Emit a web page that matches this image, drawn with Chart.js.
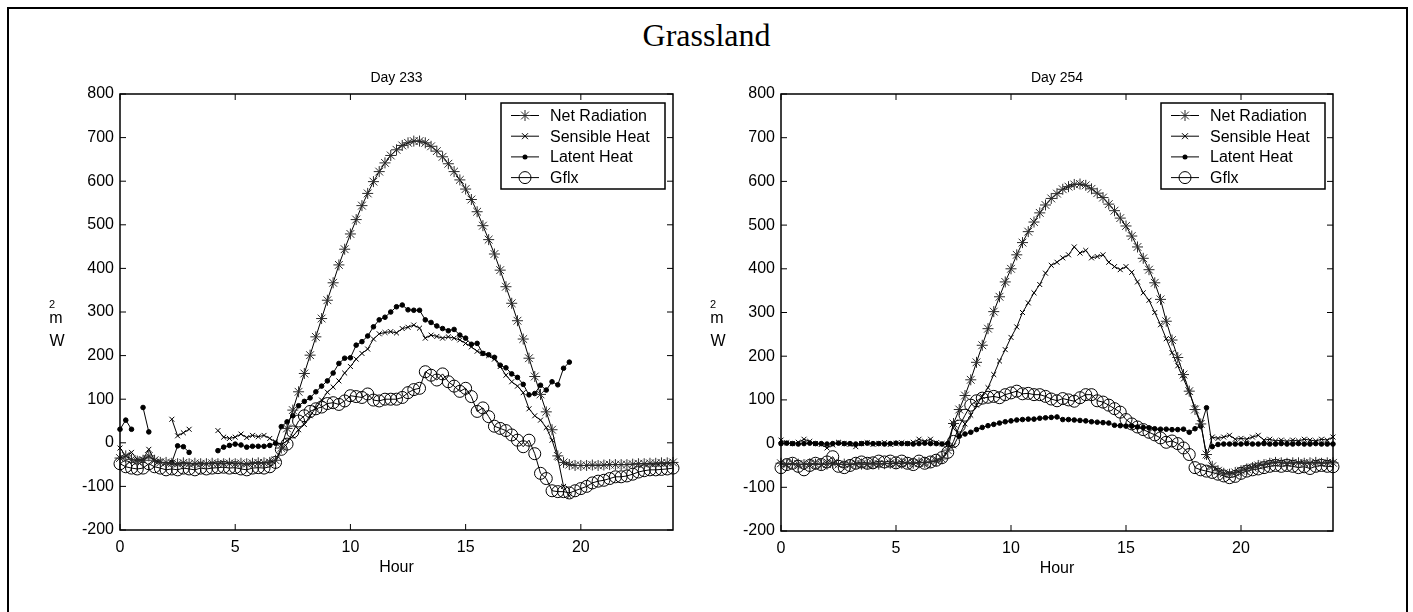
<!DOCTYPE html>
<html lang="en">
<head>
<meta charset="UTF-8" />
<title>Grassland</title>
<script src="https://cdn.jsdelivr.net/npm/chart.js"></script>
<style>
  html, body { margin: 0; padding: 0; background: #fff; }
  body { width: 1413px; height: 612px; position: relative; overflow: hidden; }
  #frame { position: absolute; left: 7px; top: 7px; width: 1401px; height: 640px; border: 2px solid #000; box-sizing: border-box; }
  #title { position: absolute; left: 0; top: 19px; width: 1413px; text-align: center;
           font-family: "Times New Roman", "Liberation Serif", serif; font-size: 32px; line-height: 32px; }
  .panel { position: absolute; top: 0; height: 612px; }
</style>
</head>
<body>
  <div id="frame"></div>
  <div id="title">Grassland</div>
  <div class="panel" style="left:0;width:706px"><canvas id="day233" width="706" height="612"></canvas></div>
  <div class="panel" style="left:706px;width:707px"><canvas id="day254" width="707" height="612"></canvas></div>

<script>
  // 15-minute samples, hour 0 .. 24
  const HOURS = Array.from({ length: 97 }, (_, i) => i * 0.25);
  const SERIES_NAMES = ['Net Radiation', 'Sensible Heat', 'Latent Heat', 'Gflx'];
  const X_TICKS = [0, 5, 10, 15, 20];
  const Y_TICKS = [-200, -100, 0, 100, 200, 300, 400, 500, 600, 700, 800];

  // Day 233
  const nr233 = [
    -35, -30, -38, -42, -40, -30, -40, -45,
    -45, -47, -48, -46, -48, -47, -48, -48,
    -47, -48, -48, -47, -48, -47, -48, -47,
    -46, -46, -45, -40, -12, 33, 75, 117,
    159, 201, 243, 285, 327, 367, 408, 444,
    479, 512, 544, 572, 599, 622, 642, 659,
    672, 682, 688, 692, 692, 688, 680, 669,
    656, 640, 622, 603, 582, 558, 530, 498,
    466, 433, 396, 358, 320, 280, 238, 194,
    152, 111, 71, 30, -30, -45, -50, -52,
    -52, -52, -51, -52, -51, -50, -50, -50,
    -50, -49, -48, -48, -47, -47, -46, -46,
    -45
  ];
  const sh233 = [
    -12, -30, -22, -38, -38, -15, -40, -42,
    null, 54, 16, 23, 31, null, null, null,
    null, 28, 13, 10, 13, 20, 12, 17,
    14, 17, 10, 2, -5, 5, 15, 30,
    42, 62, 80, 98, 116, 128, 142, 160,
    175, 192, 205, 215, 238, 250, 253, 255,
    252, 262, 265, 270, 263, 240, 247, 244,
    240, 243, 240, 236, 228, 220, 210, 205,
    200, 192, 175, 155, 140, 130, 115, 78,
    62, 52, 35, 6, -35, -100, -122, null,
    null, null, null, null, null, null, null, null,
    null, null, null, null, null, null, null, null,
    null
  ];
  const le233 = [
    31, 52, 31, null, 81, 25, null, null,
    null, -45, -7, -9, -22, null, null, null,
    null, -18, -10, -6, -3, -5, -10, -8,
    -8, -8, -6, -1, 37, 48, 62, 85,
    95, 103, 117, 130, 142, 160, 182, 194,
    195, 224, 232, 245, 266, 282, 288, 300,
    312, 316, 305, 304, 304, 282, 276, 268,
    262, 257, 260, 247, 240, 226, 228, 205,
    202, 196, 178, 172, 158, 150, 134, 110,
    113, 132, 121, 140, 133, 171, 185, null,
    null, null, null, null, null, null, null, null,
    null, null, null, null, null, null, null, null,
    null
  ];
  const gf233 = [
    -48, -55, -58, -60, -58, -48, -55, -58,
    -62, -60, -62, -58, -60, -62, -58, -60,
    -58, -57, -56, -58, -57, -60, -62, -58,
    -57, -58, -55, -45, -15, -3, 25, 50,
    62, 72, 78, 82, 90, 92, 88, 96,
    108, 106, 104, 112, 98, 96, 100, 100,
    100, 104, 115, 122, 125, 163, 155, 144,
    158, 140, 130, 118, 125, 106, 72, 80,
    60, 38, 33, 28, 18, 6, -9, 6,
    -25, -70, -82, -110, -112, -112, -115, -110,
    -105, -100, -92, -88, -86, -82, -78, -78,
    -76, -72, -67, -64, -62, -62, -61, -60,
    -58
  ];

  // Day 254
  const nr254 = [
    -45, -48, -46, -47, -48, -46, -47, -48,
    -47, -45, -48, -47, -48, -46, -47, -47,
    -46, -47, -46, -45, -46, -45, -44, -45,
    -44, -43, -42, -40, -35, -15, 46, 78,
    110, 146, 186, 225, 263, 302, 336, 370,
    400, 432, 460, 485, 507, 528, 546, 561,
    572, 582, 588, 593, 594, 591, 583, 573,
    563, 548, 533, 516, 498, 475, 450, 424,
    398, 368, 330, 280, 237, 197, 158, 120,
    78, 45, -25, -52, -62, -68, -70, -66,
    -62, -58, -55, -50, -48, -45, -43, -44,
    -45, -44, -44, -45, -44, -43, -45, -44,
    -44
  ];
  const sh254 = [
    8, 2, 0, 3, 10, 5, 0, -2,
    -10, -3, 3, 0, -2, -7, 0, 2,
    -2, 0, 2, -2, 0, 2, 0, 3,
    10, 5, 10, 2, 0, -3, -5, 20,
    45, 65, 88, 108, 128, 158, 189, 215,
    243, 267, 300, 322, 345, 364, 390, 408,
    415, 425, 432, 450, 436, 442, 425, 428,
    432, 415, 405, 398, 405, 392, 370, 345,
    328, 300, 272, 240, 208, 178, 148, 118,
    82, 48, -30, 15, 12, 15, 19, 10,
    12, 10, 15, 19, 8, 10, 6, 8,
    5, 8, 6, 10, 8, 6, 10, 8,
    15
  ];
  const le254 = [
    0, 1, 0, -1, 0, 1, 0, 0,
    -1, 0, 1, 0, 0, -1, 0, 1,
    0, 0, -1, 0, 1, 0, 0, -1,
    0, 1, 0, 0, -1, 0, 45, 17,
    22, 26, 32, 37, 41, 44, 47, 50,
    52, 54, 55, 56, 56, 58, 59, 60,
    61, 55, 55, 54, 53, 52, 50, 49,
    48, 47, 42, 41, 40, 40, 38, 37,
    36, 34, 33, 33, 32, 32, 33, 26,
    34, 40, 82, -7, -2, -1, -1, -1,
    -1, 0, -1, -1, 0, -1, -1, 0,
    -1, -1, 0, -1, -1, 0, -1, -1,
    -1
  ];
  const gf254 = [
    -55, -48, -45, -52, -60, -50, -45, -48,
    -42, -30, -52, -55, -50, -45, -42, -45,
    -44, -40, -42, -40, -44, -40, -45, -48,
    -40, -45, -42, -38, -32, -20, 5, 40,
    65, 88, 98, 104, 106, 108, 105, 112,
    116, 120, 114, 115, 112, 112, 108, 102,
    98, 103, 100, 97, 105, 112, 112, 98,
    95, 88, 80, 72, 55, 45, 38, 32,
    26, 20, 13, 3, 6, 0, -10, -25,
    -55, -60, -63, -66, -70, -74, -78, -75,
    -68, -63, -60, -58, -55, -52, -50, -52,
    -50, -52, -55, -53, -57, -52, -50, -52,
    -53
  ];

  const FONT = 'Arial, "Liberation Sans", Helvetica, sans-serif';
  const MARKERS = ['star', 'crossRot', 'dot', 'circle'];
  const TICK = 6;

  Chart.defaults.font.family = FONT;
  Chart.defaults.color = '#000';

  function drawMarker(ctx, kind, x, y) {
    ctx.beginPath();
    if (kind === 'star') {
      const r = 5.5, d = r * 0.707;
      ctx.moveTo(x - r, y); ctx.lineTo(x + r, y);
      ctx.moveTo(x, y - r); ctx.lineTo(x, y + r);
      ctx.moveTo(x - d, y - d); ctx.lineTo(x + d, y + d);
      ctx.moveTo(x - d, y + d); ctx.lineTo(x + d, y - d);
      ctx.stroke();
    } else if (kind === 'crossRot') {
      const d = 3;
      ctx.moveTo(x - d, y - d); ctx.lineTo(x + d, y + d);
      ctx.moveTo(x - d, y + d); ctx.lineTo(x + d, y - d);
      ctx.stroke();
    } else if (kind === 'dot') {
      ctx.arc(x, y, 2.5, 0, Math.PI * 2);
      ctx.fill();
    } else {
      ctx.arc(x, y, 6, 0, Math.PI * 2);
      ctx.stroke();
    }
  }

  // matlab style box, inward ticks, legend and labels
  const matlabFrame = {
    id: 'matlabFrame',
    afterDatasetsDraw(chart, args, opts) {
      const { ctx, chartArea: a, scales: { x, y } } = chart;
      ctx.save();
      ctx.strokeStyle = '#000';
      ctx.fillStyle = '#000';
      ctx.lineWidth = 1.5;
      ctx.strokeRect(a.left, a.top, a.right - a.left, a.bottom - a.top);

      ctx.lineWidth = 1;
      ctx.beginPath();
      X_TICKS.forEach(v => {
        const px = x.getPixelForValue(v);
        ctx.moveTo(px, a.bottom); ctx.lineTo(px, a.bottom - TICK);
        ctx.moveTo(px, a.top); ctx.lineTo(px, a.top + TICK);
      });
      Y_TICKS.forEach(v => {
        const py = y.getPixelForValue(v);
        ctx.moveTo(a.left, py); ctx.lineTo(a.left + TICK, py);
        ctx.moveTo(a.right, py); ctx.lineTo(a.right - TICK, py);
      });
      ctx.stroke();

      // legend
      const bw = 164, bh = 86;
      const bx = a.right - 8 - bw, by = a.top + 9;
      ctx.fillStyle = '#fff';
      ctx.fillRect(bx, by, bw, bh);
      ctx.lineWidth = 1.5;
      ctx.strokeRect(bx, by, bw, bh);
      ctx.lineWidth = 1;
      ctx.font = '16px ' + FONT;
      ctx.textBaseline = 'middle';
      ctx.textAlign = 'left';
      chart.data.datasets.forEach((ds, i) => {
        const ry = by + 12.5 + i * 20.7;
        ctx.strokeStyle = '#000';
        ctx.fillStyle = '#000';
        ctx.beginPath();
        ctx.moveTo(bx + 10, ry); ctx.lineTo(bx + 38, ry);
        ctx.stroke();
        ctx.strokeStyle = ds.pointBorderColor;
        drawMarker(ctx, MARKERS[i], bx + 24, ry);
        ctx.fillStyle = '#000';
        ctx.fillText(ds.label, bx + 49, ry + 1);
      });

      // titles
      const cx = (a.left + a.right) / 2;
      ctx.fillStyle = '#000';
      ctx.textAlign = 'center';
      ctx.font = '14px ' + FONT;
      ctx.fillText(opts.title, cx, a.top - 16);
      ctx.font = '16px ' + FONT;
      ctx.fillText('Hour', cx, a.bottom + 38);
      ctx.fillText('W', a.left - 63, a.top + 248);
      ctx.fillText('m', a.left - 64, a.top + 225);
      ctx.font = '11px ' + FONT;
      ctx.fillText('2', a.left - 68, a.top + 211);
      ctx.restore();
    }
  };

  function makeChart(id, title, nr, sh, le, gf, yWidth, padRight, padBottom) {
    const toPoints = vals => vals.map((v, i) => ({ x: HOURS[i], y: v }));
    const base = { borderColor: '#000', borderWidth: 1, tension: 0, spanGaps: false, clip: false, pointHoverRadius: 0 };
    new Chart(document.getElementById(id), {
      type: 'line',
      data: {
        datasets: [
          Object.assign({ label: SERIES_NAMES[0], data: toPoints(nr), pointStyle: 'star', pointRadius: 5.5,
            pointBorderColor: '#2a2a2a', pointBackgroundColor: 'rgba(0,0,0,0)', pointBorderWidth: 1 }, base),
          Object.assign({ label: SERIES_NAMES[1], data: toPoints(sh), pointStyle: 'crossRot', pointRadius: 3.5,
            pointBorderColor: '#000', pointBackgroundColor: 'rgba(0,0,0,0)', pointBorderWidth: 1 }, base),
          Object.assign({ label: SERIES_NAMES[2], data: toPoints(le), pointStyle: 'circle', pointRadius: 2.3,
            pointBorderColor: '#000', pointBackgroundColor: '#000', pointBorderWidth: 1 }, base),
          Object.assign({ label: SERIES_NAMES[3], data: toPoints(gf), pointStyle: 'circle', pointRadius: 6,
            pointBorderColor: '#000', pointBackgroundColor: 'rgba(0,0,0,0)', pointBorderWidth: 1 }, base)
        ]
      },
      options: {
        responsive: false,
        animation: false,
        events: [],
        layout: { padding: { left: 0, right: padRight, top: 94, bottom: padBottom } },
        plugins: {
          legend: { display: false },
          tooltip: { enabled: false },
          matlabFrame: { title }
        },
        scales: {
          x: {
            type: 'linear', min: 0, max: 24,
            grid: { display: false, drawTicks: false },
            border: { display: false },
            ticks: { stepSize: 5, includeBounds: false, maxRotation: 0, padding: 8, font: { size: 16 } },
            afterFit: s => { s.height = 30; }
          },
          y: {
            min: -200, max: 800,
            grid: { display: false, drawTicks: false },
            border: { display: false },
            ticks: { stepSize: 100, padding: 6, font: { size: 16 } },
            afterFit: s => { s.width = yWidth; }
          }
        }
      },
      plugins: [matlabFrame]
    });
  }

  makeChart('day233', 'Day 233', nr233, sh233, le233, gf233, 120, 33, 52);
  makeChart('day254', 'Day 254', nr254, sh254, le254, gf254, 75, 80, 51);
</script>
</body>
</html>
